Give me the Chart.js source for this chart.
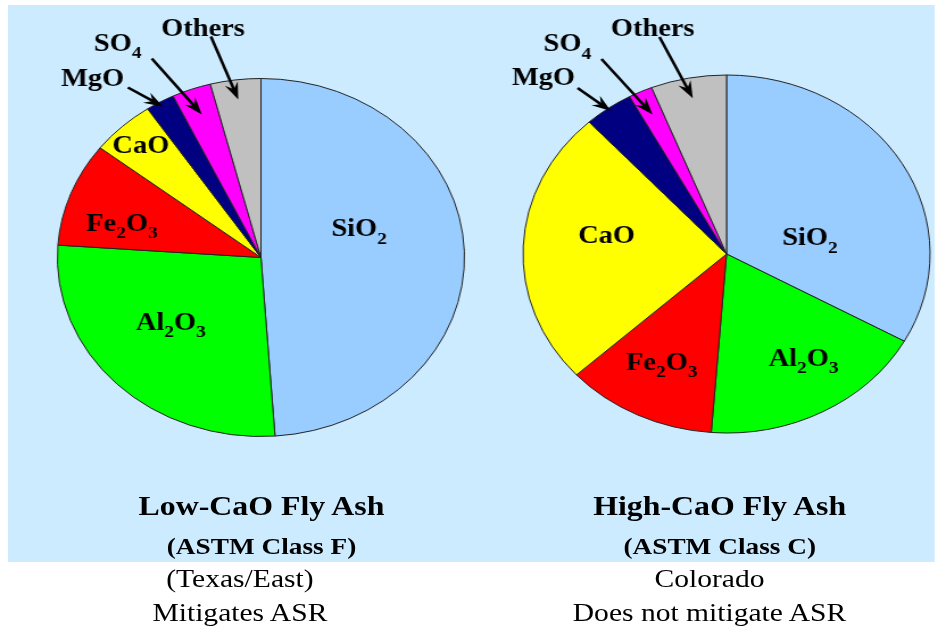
<!DOCTYPE html>
<html>
<head>
<meta charset="utf-8">
<script src="https://cdn.jsdelivr.net/npm/chart.js@4.4.0/dist/chart.umd.min.js"></script>
<style>
body { margin: 0; background: #fff; }
#page { position: relative; width: 826px; height: 630px; transform: scaleX(1.137); transform-origin: 0 0;
        font-family: "Liberation Serif", "Times New Roman", serif; color: #000; }
#panel { position: absolute; left: 7px; top: 5px; width: 815px; height: 557px; background: #ccebff; }
canvas { position: absolute; top: 5px; }
.t { position: absolute; white-space: nowrap; line-height: 1; transform: translateX(-50%); }
.title { font-weight: bold; font-size: 28px; }
.sub { font-weight: bold; font-size: 24px; }
.cap { font-size: 26px; }
</style>
</head>
<body>
<div id="page">
  <div id="panel"></div>
  <canvas id="classF" width="405" height="557" style="left:7px"></canvas>
  <canvas id="classC" width="410" height="557" style="left:412px"></canvas>

  <div class="t title" style="left:230px;top:492px">Low-CaO Fly Ash</div>
  <div class="t sub" style="left:230px;top:534px">(ASTM Class F)</div>
  <div class="t cap" style="left:211px;top:566px">(Texas/East)</div>
  <div class="t cap" style="left:211px;top:600px">Mitigates ASR</div>

  <div class="t title" style="left:633px;top:492px">High-CaO Fly Ash</div>
  <div class="t sub" style="left:633px;top:534px">(ASTM Class C)</div>
  <div class="t cap" style="left:624px;top:566px">Colorado</div>
  <div class="t cap" style="left:624px;top:600px">Does not mitigate ASR</div>
</div>
<script>
const categories = ['SiO2', 'Al2O3', 'Fe2O3', 'CaO', 'MgO', 'SO4', 'Others'];
const classF = [48.9, 27.2, 9.4, 5.1, 2.3, 3.1, 4.0];
const classC = [33.1, 18.1, 12.0, 25.0, 3.9, 1.9, 6.0];
const sliceColors = ['#99ccff', '#00ff00', '#ff0000', '#ffff00', '#000080', '#ff00ff', '#c0c0c0'];

// label placement: inner = [degrees from slice middle, fraction of radius]
// callouts = label offset from centre, arrow tail offset, arrow tip fraction of radius
const layoutF = {
    inner: { 0: [-17, 0.51], 1: [6, 0.57], 2: [-5, 0.71], 3: [0, 0.865] },
    callouts: {
        4: { text: [-148, -180], tail: [-117, -170], tip: 0.97 },
        5: { text: [-126, -215], tail: [-96, -199], tip: 0.85 },
        6: { text: [-51, -230], tail: [-44, -221], tip: 0.89 }
    }
};
const layoutC = {
    inner: { 0: [17.5, 0.42], 1: [-5, 0.69], 2: [2, 0.68], 3: [8, 0.6] },
    callouts: {
        4: { text: [-161, -177], tail: [-131, -166], tip: 0.98 },
        5: { text: [-140, -211], tail: [-110, -195], tip: 0.86 },
        6: { text: [-65, -226], tail: [-59, -217], tip: 0.886 }
    }
};

function drawChem(ctx, text, x, y, size) {
    const big = 'bold ' + size + 'px "Liberation Serif"';
    const small = 'bold ' + Math.round(size * 0.68) + 'px "Liberation Serif"';
    const runs = [];
    for (const ch of text) {
        const isSub = /\d/.test(ch);
        ctx.font = isSub ? small : big;
        runs.push({ ch, isSub, w: ctx.measureText(ch).width });
    }
    const total = runs.reduce((s, r) => s + r.w, 0);
    let cx = x - total / 2;
    const base = y + size * 0.33;
    ctx.fillStyle = '#000';
    ctx.textAlign = 'left';
    ctx.textBaseline = 'alphabetic';
    runs.forEach(r => {
        ctx.font = r.isSub ? small : big;
        ctx.fillText(r.ch, cx, r.isSub ? base + size * 0.3 : base);
        cx += r.w;
    });
}

function arrow(ctx, x1, y1, x2, y2) {
    const a = Math.atan2(y2 - y1, x2 - x1);
    const ux = Math.cos(a), uy = Math.sin(a);
    ctx.strokeStyle = '#000';
    ctx.fillStyle = '#000';
    ctx.lineWidth = 2.6;
    ctx.beginPath();
    ctx.moveTo(x1, y1);
    ctx.lineTo(x2 - ux * 10, y2 - uy * 10);
    ctx.stroke();
    // barbed head
    const len = 17, half = 6, notch = 11;
    ctx.beginPath();
    ctx.moveTo(x2, y2);
    ctx.lineTo(x2 - ux * len - uy * half, y2 - uy * len + ux * half);
    ctx.lineTo(x2 - ux * notch, y2 - uy * notch);
    ctx.lineTo(x2 - ux * len + uy * half, y2 - uy * len - ux * half);
    ctx.closePath();
    ctx.fill();
}

const labelPlugin = {
    id: 'chemLabels',
    afterDatasetsDraw(chart, args, opts) {
        const ctx = chart.ctx;
        const arcs = chart.getDatasetMeta(0).data;
        const lay = opts.layout;
        ctx.save();
        arcs.forEach((arc, i) => {
            const p = arc.getProps(['x', 'y', 'startAngle', 'endAngle', 'outerRadius'], true);
            const mid = (p.startAngle + p.endAngle) / 2;
            if (lay.inner[i]) {
                const [dDeg, f] = lay.inner[i];
                const ang = mid + dDeg * Math.PI / 180;
                drawChem(ctx, categories[i], p.x + Math.cos(ang) * p.outerRadius * f,
                    p.y + Math.sin(ang) * p.outerRadius * f, 25);
            }
            const c = lay.callouts[i];
            if (c) {
                drawChem(ctx, categories[i], p.x + c.text[0], p.y + c.text[1], 25);
                arrow(ctx, p.x + c.tail[0], p.y + c.tail[1],
                    p.x + Math.cos(mid) * p.outerRadius * c.tip,
                    p.y + Math.sin(mid) * p.outerRadius * c.tip);
            }
        });
        ctx.restore();
    }
};

function makePie(id, values, layout, padding) {
    new Chart(document.getElementById(id), {
        type: 'pie',
        data: {
            labels: categories,
            datasets: [{
                data: values,
                backgroundColor: sliceColors,
                borderColor: '#222',
                borderWidth: 1
            }]
        },
        options: {
            responsive: false,
            animation: false,
            radius: 179,
            layout: { padding: padding },
            plugins: {
                legend: { display: false },
                tooltip: { enabled: false },
                chemLabels: { layout: layout }
            }
        },
        plugins: [labelPlugin]
    });
}

makePie('classF', classF, layoutF, { left: 40, right: 0, top: 0, bottom: 52 });
makePie('classC', classC, layoutC, { left: 44, right: 0, top: 0, bottom: 59 });
</script>
</body>
</html>
